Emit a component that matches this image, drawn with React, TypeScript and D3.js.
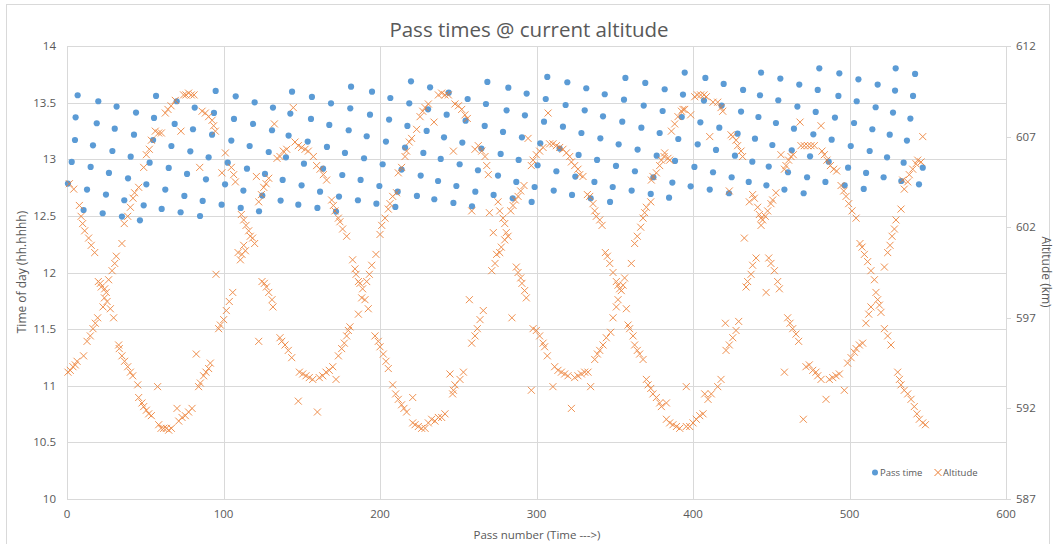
import React from 'react';
import * as d3 from 'd3';

// Pass time series: [pass number, time of day in hh.hhhh]
const passTimePoints: [number, number][] = [
  [0.6,12.785],[3.0,12.976],[5.1,13.170],[5.5,13.370],[6.8,13.565],
  [10.6,12.552],[12.8,12.732],[15.1,12.932],[16.6,13.123],[19.0,13.318],[20.0,13.512],
  [22.8,12.523],[24.9,12.688],[26.8,12.879],[29.0,13.073],[30.5,13.270],[31.7,13.465],
  [35.1,12.494],[36.6,12.638],[39.0,12.832],[40.7,13.023],[42.8,13.217],[44.1,13.412],
  [46.6,12.461],[49.0,12.593],[50.7,12.779],[52.8,12.970],[55.0,13.170],[55.6,13.365],[56.9,13.559],
  [60.5,12.561],[62.8,12.732],[65.0,12.923],[66.7,13.117],[68.8,13.312],[70.1,13.512],
  [72.6,12.532],[75.0,12.676],[76.7,12.870],[78.8,13.070],[80.5,13.265],[81.6,13.456],
  [85.0,12.499],[86.7,12.632],[88.8,12.823],[90.5,13.017],[92.7,13.217],[93.9,13.409],[95.0,13.603],
  [98.8,12.599],[101.0,12.779],[102.7,12.970],[105.0,13.165],[106.7,13.356],[107.8,13.556],
  [111.0,12.570],[112.7,12.723],[115.0,12.917],[116.7,13.117],[118.9,13.312],[119.9,13.503],
  [122.7,12.541],[124.8,12.679],[126.5,12.870],[128.9,13.064],[131.0,13.256],[131.6,13.456],
  [136.5,12.635],[137.8,12.817],[139.9,13.017],[141.6,13.209],[142.7,13.403],[143.8,13.597],
  [147.8,12.599],[149.9,12.770],[151.4,12.961],[153.8,13.156],[155.9,13.356],[156.5,13.550],
  [160.0,12.570],[161.7,12.714],[163.6,12.917],[166.1,13.109],[167.6,13.303],[168.7,13.494],
  [171.9,12.538],[173.8,12.670],[175.9,12.861],[177.6,13.056],[180.0,13.256],[181.0,13.450],[181.5,13.641],
  [185.9,12.638],[187.6,12.817],[189.8,13.009],[191.5,13.203],[193.6,13.394],[194.9,13.597],
  [197.7,12.608],[199.6,12.764],[201.7,12.956],[203.8,13.156],[205.8,13.350],[206.6,13.541],
  [209.8,12.579],[211.3,12.714],[213.8,12.909],[216.0,13.103],[217.5,13.294],[218.7,13.494],[219.8,13.688],
  [223.6,12.676],[226.0,12.856],[227.7,13.056],[229.8,13.250],[230.7,13.441],[232.0,13.635],
  [234.7,12.647],[237.1,12.808],[238.8,13.003],[240.9,13.194],[242.6,13.394],[243.9,13.588],
  [246.9,12.614],[248.8,12.764],[250.9,12.956],[252.6,13.147],[254.7,13.341],[256.0,13.532],
  [258.8,12.585],[260.9,12.714],[262.6,12.903],[264.8,13.094],[266.9,13.294],[267.7,13.488],[268.6,13.683],
  [272.6,12.685],
  [275.4,12.856],[277.1,13.047],[278.6,13.241],[280.9,13.432],[282.0,13.632],
  [284.8,12.655],[287.1,12.800],[288.6,12.994],[290.7,13.194],[292.6,13.388],[293.7,13.580],
  [296.9,12.623],[298.8,12.755],[300.7,12.947],[302.4,13.141],[304.8,13.332],[305.9,13.532],[306.9,13.727],
  [311.0,12.723],[312.7,12.894],[314.8,13.094],[316.9,13.288],[318.6,13.479],[319.7,13.680],
  [322.7,12.685],[324.8,12.847],[326.9,13.038],[328.7,13.232],[330.8,13.432],[331.8,13.627],
  [334.6,12.655],[337.0,12.800],[338.7,12.994],[340.8,13.185],[342.5,13.379],[343.6,13.574],
  [347.0,12.623],[348.7,12.755],[350.8,12.941],[352.5,13.132],[354.8,13.332],[355.9,13.526],[356.8,13.718],
  [360.8,12.723],[362.9,12.894],[364.6,13.085],[367.0,13.279],[368.5,13.474],[369.5,13.674],
  [373.0,12.694],[374.7,12.841],[376.8,13.032],[378.7,13.232],[380.6,13.426],[381.9,13.618],
  [384.7,12.661],[386.8,12.794],[388.5,12.985],[390.6,13.179],[392.8,13.373],[393.6,13.571],[394.7,13.765],
  [398.5,12.761],[400.9,12.932],[403.0,13.132],[404.7,13.326],[407.0,13.518],[407.9,13.718],
  [410.7,12.732],[412.8,12.885],
  [414.7,13.082],[416.8,13.279],[418.3,13.474],[419.6,13.665],
  [423.0,12.700],[424.7,12.841],[426.8,13.032],[428.5,13.226],[430.7,13.421],[432.0,13.612],
  [435.6,12.800],[437.9,12.979],[439.6,13.182],[441.8,13.373],[442.8,13.565],[443.5,13.765],
  [446.9,12.770],[448.4,12.935],[450.7,13.126],[453.0,13.320],[454.5,13.521],[455.8,13.712],
  [458.4,12.732],[460.7,12.885],[463.1,13.079],[464.5,13.270],[466.7,13.465],[467.9,13.659],
  [470.7,12.700],[472.9,12.841],[474.8,13.026],[476.9,13.220],[478.4,13.418],[479.7,13.612],[480.7,13.803],
  [484.6,12.800],[486.7,12.979],[488.6,13.173],[490.7,13.368],[492.9,13.559],[493.5,13.759],
  [496.9,12.770],[499.1,12.926],[500.8,13.117],[502.9,13.320],[504.6,13.512],[505.7,13.706],
  [509.1,12.738],[510.6,12.879],[512.9,13.073],[514.6,13.265],[516.7,13.459],[518.0,13.659],
  [521.8,12.841],[524.0,13.017],[525.7,13.217],[527.8,13.412],[529.1,13.606],[529.5,13.803],
  [533.1,12.808],[534.6,12.970],[536.7,13.165],[538.9,13.359],[540.6,13.559],[541.9,13.753],
  [544.4,12.779],[546.8,12.926],
];

// Altitude series: [pass number, altitude in km]
const altitudePoints: [number, number][] = [
  [1.5,604.4],[4.3,604.1],[7.9,603.2],[9.0,602.6],[10.0,602.2],[11.3,601.8],[13.8,601.4],[15.5,601.0],[17.7,600.6],
  [20.0,599.0],[21.3,598.9],[21.9,598.7],[24.1,598.6],[25.1,598.4],[23.9,598.1],[25.6,597.9],[23.0,597.6],[27.7,597.5],[29.8,597.0],
  [19.6,597.0],[18.1,596.7],[16.6,596.4],[14.9,596.0],[12.8,595.7],[10.6,594.9],[6.4,594.6],[5.3,594.4],[3.8,594.3],[2.1,594.1],[0.6,594.0],
  [26.6,599.1],[28.8,599.6],[30.5,600.0],[31.5,600.4],[35.1,601.1],[36.6,602.2],[38.8,602.6],[40.5,603.1],[42.2,603.6],[43.2,603.9],[45.8,604.2],
  [49.0,605.3],[50.7,606.0],[52.6,606.3],[53.9,606.8],[56.4,607.3],[58.6,607.2],[60.3,607.2],[72.8,607.3],
  [62.8,608.3],[64.5,608.5],[66.5,608.7],[69.2,609.0],[74.5,609.3],[76.0,609.3],[77.7,609.4],[79.4,609.3],[81.2,609.3],
  [86.3,608.4],[88.4,608.3],[90.5,608.1],[92.7,607.9],[93.7,607.6],[94.8,607.3],[84.8,605.3],
  [101.2,606.1],[99.0,605.0],[105.0,605.3],[106.5,604.9],[107.6,604.5],
  [121.0,604.8],[128.9,604.7],[127.2,604.4],[125.7,604.2],[124.2,603.8],[122.5,603.4],[132.5,607.7],[134.2,605.8],
  [33.0,595.5],[33.4,595.3],[35.1,594.9],[36.8,594.6],[38.8,594.3],[40.5,594.0],[42.0,593.8],[45.2,593.3],
  [45.8,592.6],[47.9,592.3],[49.0,592.1],[50.7,591.9],[52.2,591.7],[53.9,591.6],[57.9,593.2],
  [58.6,591.1],[60.1,590.9],[61.8,590.9],[63.5,590.9],[65.0,590.8],[66.7,590.9],[70.3,592.0],
  [71.4,591.3],[73.5,591.5],[75.6,591.6],[77.7,591.8],[79.9,592.0],[82.6,595.0],
  [84.1,593.2],[85.2,593.4],[87.3,593.8],[88.8,594.0],[90.5,594.2],[91.6,594.5],[95.2,599.4],
  [96.9,596.4],[98.0,596.6],[100.1,596.9],[101.8,597.4],[103.7,597.9],[105.9,598.4],
  [111.4,602.7],[112.9,602.4],[114.4,602.1],[116.1,601.8],[117.1,601.5],[118.6,601.4],[119.9,601.1],
  [112.9,601.0],[114.0,600.7],[109.3,600.6],[110.8,600.2],[111.8,600.5],
  [124.6,599.0],[126.1,598.9],[127.4,598.7],[128.9,598.4],[131.0,598.0],[131.6,597.6],[122.5,595.7],
  [144.6,608.6],[138.2,606.2],[140.4,606.3],[136.1,605.9],[145.7,606.7],[147.8,606.5],[149.9,606.4],[152.1,606.3],[154.2,606.2],
  [157.4,605.9],[159.5,605.4],[161.7,605.2],[163.8,604.9],[165.9,604.6],[169.1,603.5],[170.2,603.2],[171.2,602.9],
  [173.4,602.5],[174.4,602.3],[176.1,601.9],[178.7,601.5],[182.5,600.2],[184.0,599.7],[184.7,599.4],[186.2,599.0],
  [187.2,598.9],[188.9,598.6],[188.3,598.1],[190.4,598.0],[192.5,597.5],[186.2,597.2],[191.5,599.0],[193.2,599.4],
  [194.7,599.9],[197.4,600.5],[200.0,601.6],[201.1,602.1],[203.2,602.5],[205.3,603.0],[206.4,603.3],[208.1,603.7],
  [210.6,603.9],[211.7,605.0],[213.8,605.3],[216.0,605.9],[217.0,606.2],[218.7,606.7],[220.2,606.9],[223.4,607.4],
  [225.6,608.1],[227.3,608.4],[228.8,608.6],[230.9,608.8],[234.5,607.8],[237.3,609.3],[239.4,609.4],[241.5,609.3],
  [243.7,609.3],[246.9,606.2],[247.9,608.8],[250.1,608.7],[252.2,608.5],[254.3,608.2],[255.8,608.0],
  [260.7,606.3],[262.8,606.5],[265.0,606.2],[267.1,605.9],[268.2,605.4],[269.2,604.9],[258.6,602.9],[269.9,602.8],
  [272.4,601.7],[274.5,600.5],[273.5,600.0],[271.4,599.6],[257.1,598.0],[266.0,597.4],[263.9,596.9],[262.2,596.4],
  [260.7,596.0],[258.6,595.6],[244.7,593.9],[246.9,593.0],[247.9,593.3],[251.1,593.6],[253.3,594.0],[246.4,592.8],
  [220.9,592.6],[241.5,591.7],[239.4,591.5],[237.3,591.5],[235.1,591.3],[233.0,591.4],[230.9,591.2],[228.8,590.9],
  [226.6,590.9],[224.5,591.0],[222.4,591.1],[220.9,591.2],[217.0,591.8],[215.3,592.0],[213.8,592.2],[211.7,592.5],
  [210.0,592.8],[208.1,593.3],[205.3,594.2],[203.8,594.6],[202.1,595.0],[200.0,595.4],[198.9,595.7],[196.8,596.0],
  [136.1,595.9],[137.2,595.7],[139.3,595.5],[141.4,595.2],[143.6,594.8],[148.5,594.0],[150.6,593.9],[152.7,593.8],
  [154.8,593.7],[157.0,593.6],[161.2,593.7],[163.4,593.8],[165.5,594.0],[167.6,594.1],[169.8,594.3],[171.9,593.6],
  [147.8,592.4],[160.0,591.8],[173.4,594.9],[175.5,595.3],[177.2,595.6],[178.7,596.0],[179.8,596.3],[180.8,596.5],
  [275.4,603.4],[276.5,602.9],[278.6,602.5],[279.7,602.2],[280.7,601.7],[281.8,601.5],[279.7,601.3],[277.5,600.9],
  [276.5,600.6],[283.5,602.9],[285.0,603.2],[286.5,603.5],[288.2,603.7],[289.9,604.0],[292.0,604.3],[294.6,606.9],
  [296.7,605.4],[297.8,605.7],[299.9,606.0],[302.0,606.2],[304.2,606.4],[307.4,608.3],[308.4,606.6],[310.5,606.6],
  [312.7,606.5],[314.8,606.4],[316.9,606.3],[319.1,606.1],[321.2,605.9],[322.3,605.6],[324.4,605.4],[326.5,605.2],
  [327.6,604.9],[329.7,604.8],[332.5,603.8],[334.0,603.7],[336.1,603.3],[337.2,602.9],[338.2,602.6],[340.4,602.4],
  [341.9,602.1],[344.0,600.6],[345.3,600.4],[346.8,600.0],[348.9,599.5],[351.0,599.0],[352.1,598.8],[353.1,598.6],
  [354.2,598.5],[355.3,598.8],[356.3,599.2],[352.1,598.0],[351.0,597.6],[348.9,597.0],[347.4,596.2],[344.6,595.9],
  [342.5,595.5],[340.4,595.2],[338.9,595.0],[337.2,594.7],[357.4,597.5],[358.5,596.6],[359.5,596.4],[361.7,596.0],
  [362.7,595.5],[364.4,595.2],[365.9,595.0],[368.1,594.7],[360.6,600.0],[362.7,601.1],[364.4,601.5],[366.6,602.0],
  [368.1,602.5],[369.1,602.8],[370.2,603.1],[373.0,603.4],[373.4,604.6],[374.4,604.8],[376.6,605.0],[378.7,605.4],
  [379.8,605.7],[381.5,605.9],[381.9,606.1],[384.0,605.8],[385.1,605.7],[386.2,607.3],[388.3,607.7],[390.4,608.1],
  [392.6,608.4],[393.6,608.5],[394.7,608.5],[398.5,608.2],[401.1,609.2],[402.8,609.3],[404.9,609.3],[407.0,609.3],
  [408.5,609.2],[410.7,607.0],[412.8,608.9],
  [370.2,593.6],[371.3,593.3],[373.0,593.1],[374.4,592.8],[376.6,592.6],[378.7,592.3],[379.8,592.1],[383.0,592.3],
  [383.0,591.4],[385.1,591.2],[387.2,591.1],[389.4,591.0],[391.5,590.9],[395.7,591.0],[397.9,591.0],[400.0,591.2],
  [402.1,591.4],[404.3,591.6],[406.4,591.7],[395.7,593.2],[407.5,592.8],[409.6,592.5],[411.7,592.8],
  [287.1,599.8],[288.2,599.5],[289.9,599.2],[290.7,598.9],[292.4,598.5],[293.5,598.1],[284.3,597.0],[296.7,593.0],
  [297.8,596.4],[299.9,596.3],[302.0,596.0],[304.2,595.6],[305.2,595.4],[306.9,594.9],[310.5,593.2],[311.6,594.3],
  [313.7,594.1],[315.9,594.0],[318.0,593.9],[320.1,593.8],[322.3,592.0],[324.4,593.7],[326.5,593.8],[328.7,593.9],
  [330.8,594.0],[332.9,594.0],[334.6,593.2],
  [415.8,608.9],[417.9,608.6],[419.0,608.4],[423.2,604.0],[424.3,607.1],[425.4,607.0],[427.5,606.8],[428.5,606.5],
  [430.7,606.2],[431.7,605.9],[436.0,603.4],[438.1,603.8],[439.2,603.6],[441.3,603.1],[442.4,602.7],[443.5,602.5],
  [444.5,602.4],[446.2,602.6],[443.5,602.1],[447.7,602.9],[449.8,603.3],[450.9,603.5],[453.0,603.9],[432.8,601.4],
  [440.3,600.3],[438.1,599.9],[437.1,599.4],[434.9,599.0],[433.9,598.7],[448.4,600.3],[449.8,600.0],[452.0,599.6],
  [454.1,599.0],[455.2,598.6],[446.7,598.4],[420.7,596.7],[421.1,595.2],[423.2,595.5],[425.4,595.9],[427.5,596.3],
  [429.2,596.8],[417.9,593.6],[415.8,593.2],[456.2,606.0],[458.4,605.2],[459.4,605.4],[461.1,605.7],[462.6,605.9],
  [464.1,606.0],[468.4,607.8],[469.0,606.5],[471.1,606.5],[473.3,606.5],[475.4,606.5],[477.5,606.5],[481.8,607.6],
  [482.4,606.2],[483.9,606.0],[485.6,605.7],[487.8,605.4],[489.9,605.2],[491.8,605.1],[494.6,604.3],[496.3,604.0],
  [497.8,603.7],[499.5,603.3],[501.6,602.9],[504.2,602.5],[506.7,601.1],[508.0,600.9],[509.5,600.5],[511.6,600.1],
  [513.7,599.6],[515.9,599.1],[516.9,598.4],[518.0,598.0],[519.1,597.7],[520.1,597.3],[522.3,596.4],[524.4,596.0],
  [526.5,595.5],[513.7,597.6],[512.3,597.2],[510.5,596.7],[522.3,599.8],[524.4,600.6],[525.9,601.0],[527.2,601.5],
  [528.7,601.9],[529.7,602.4],[532.9,603.0],[460.5,597.0],[462.0,596.7],[463.7,596.4],[465.8,596.1],[467.5,595.7],
  [458.4,594.0],[472.2,594.3],[474.3,594.4],[476.5,594.1],[478.6,594.0],[479.7,593.8],[481.8,593.6],[485.0,592.5],
  [487.1,593.6],[489.3,593.7],[491.4,593.8],[493.5,593.9],[496.7,593.0],[498.8,594.5],[501.0,594.8],[503.1,595.1],
  [504.2,595.3],[506.3,595.5],[508.4,595.6],[470.5,591.4],[534.0,604.6],[535.0,604.1],[537.2,604.5],[538.2,604.9],
  [540.4,605.2],[542.5,605.5],[543.6,605.7],[545.7,605.6],[546.8,607.0],[530.8,594.0],[531.9,593.6],[532.9,593.3],
  [535.0,593.0],[537.2,592.8],[539.3,592.5],[541.4,592.1],[543.1,591.7],[544.6,591.4],[546.8,591.2],[548.5,591.1],
];

const xTicks = [0, 100, 200, 300, 400, 500, 600];
const leftTicks = [10, 10.5, 11, 11.5, 12, 12.5, 13, 13.5, 14];
const rightTicks = [587, 592, 597, 602, 607, 612];

const W = 1055;
const H = 544;
const FONT = "'Open Sans', 'Noto Sans', sans-serif";
const TEXT = '#595959';
const GRID = '#d9d9d9';
const BLUE = '#5B9BD5';
const ORANGE = '#ED7D31';

export default function App() {
  const x = d3.scaleLinear().domain([0, 600]).range([67, 1006]);
  const yL = d3.scaleLinear().domain([10, 14]).range([499, 46]);
  const yR = d3.scaleLinear().domain([587, 612]).range([499, 46]);
  const fmtL = (v: number) => (Number.isInteger(v) ? String(v) : v.toFixed(1));
  const cross = 'M-3.5,-3.5L3.5,3.5M-3.5,3.5L3.5,-3.5';

  return (
    <svg width={W} height={H} style={{ position: 'absolute', left: 0, top: 0, background: '#fff' }} fontFamily={FONT}>
      <rect x={6.5} y={4.5} width={1043} height={545} fill="#fff" stroke={GRID} />

      <text x={529} y={37} textAnchor="middle" fontSize={20.5} fill={TEXT}>Pass times @ current altitude</text>

      {/* gridlines */}
      {leftTicks.map(t => (
        <line key={'h' + t} x1={x(0)} x2={x(600)} y1={Math.round(yL(t)) + 0.5} y2={Math.round(yL(t)) + 0.5} stroke={GRID} />
      ))}
      {xTicks.map(t => (
        <line key={'v' + t} x1={Math.round(x(t)) + 0.5} x2={Math.round(x(t)) + 0.5} y1={yL(14)} y2={yL(10)} stroke={GRID} />
      ))}
      {rightTicks.map(t => (
        <line key={'rt' + t} x1={x(600)} x2={x(600) + 5} y1={Math.round(yR(t)) + 0.5} y2={Math.round(yR(t)) + 0.5} stroke={GRID} />
      ))}

      {/* axis labels */}
      {leftTicks.map(t => (
        <text key={'lt' + t} x={56} y={yL(t)} dy="0.35em" textAnchor="end" fontSize={11.5} fill={TEXT}>{fmtL(t)}</text>
      ))}
      {rightTicks.map(t => (
        <text key={'rl' + t} x={1016} y={yR(t)} dy="0.35em" textAnchor="start" fontSize={11.5} fill={TEXT}>{t}</text>
      ))}
      {xTicks.map(t => (
        <text key={'xl' + t} x={x(t)} y={514} dy="0.35em" textAnchor="middle" fontSize={11.5} fill={TEXT}>{t}</text>
      ))}

      <text x={537} y={535} dy="0.35em" textAnchor="middle" fontSize={11.5} fill={TEXT}>Pass number (Time ---&gt;)</text>
      <text transform={`translate(22,272) rotate(-90)`} dy="0.35em" textAnchor="middle" fontSize={12} fill={TEXT}>Time of day (hh.hhhh)</text>
      <text transform={`translate(1046,272) rotate(90)`} dy="0.35em" textAnchor="middle" fontSize={12} fill={TEXT}>Altitude (km)</text>

      {/* series */}
      <g>
        {passTimePoints.map((d, i) => (
          <circle key={'p' + i} cx={x(d[0])} cy={yL(d[1])} r={3.1} fill={BLUE} />
        ))}
      </g>
      <g stroke={ORANGE} strokeWidth={1} fill="none" opacity={0.85}>
        {altitudePoints.map((d, i) => (
          <path key={'a' + i} d={cross} transform={`translate(${x(d[0])},${yR(d[1])})`} />
        ))}
      </g>

      {/* legend */}
      <circle cx={875} cy={472.5} r={3} fill={BLUE} />
      <text x={880} y={472.5} dy="0.35em" fontSize={9.5} fill={TEXT}>Pass time</text>
      <path d={cross} transform="translate(938,472.5)" stroke={ORANGE} fill="none" />
      <text x={943} y={472.5} dy="0.35em" fontSize={9.5} fill={TEXT}>Altitude</text>
    </svg>
  );
}
